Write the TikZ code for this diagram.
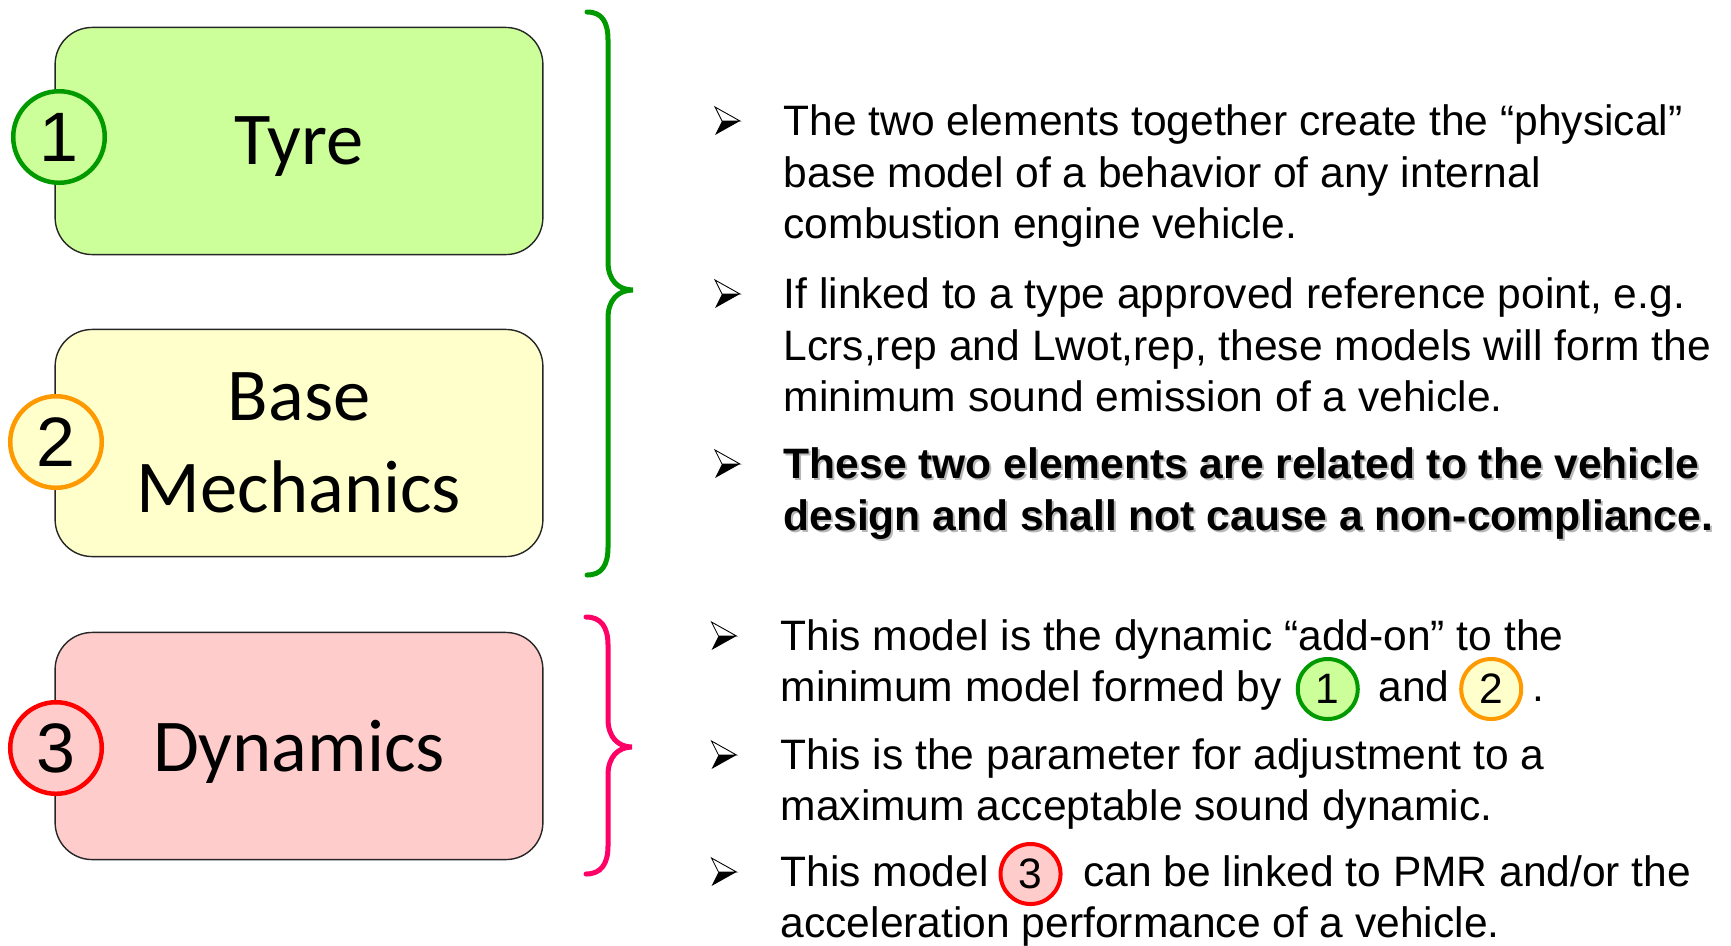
\documentclass[tikz,border=0pt]{standalone}
\usepackage{fontspec}
\setmainfont{Liberation Sans}
\newfontfamily\boxfont{Carlito}
\usetikzlibrary{positioning}
\definecolor{tyrefill}{HTML}{CCFF99}
\definecolor{tyreline}{HTML}{009900}
\definecolor{mechfill}{HTML}{FFFFCC}
\definecolor{mechline}{HTML}{FF9900}
\definecolor{dynfill}{HTML}{FFCCCC}
\definecolor{dynline}{HTML}{FF0000}
\definecolor{bracepink}{HTML}{FF0066}
\newcommand\txtfont{\fontsize{12.1}{14.5}\selectfont}
\def\pointer(#1){\begin{scope}[shift={(#1)}]
	\draw[line width=0.25pt, fill=white] (-12.5,-14) -- (12.5,0) -- (-5.5,0) -- cycle;
	\fill (-5.5,0) -- (12.5,0) -- (-12.5,14) -- cycle;
\end{scope}}
\tikzset{
	box/.style={draw=black!85, line width=0.4pt, rounded corners=0.37cm, minimum width=4.875cm, minimum height=2.27cm, inner sep=0, align=center, text depth=0pt, font=\boxfont\fontsize{21.2}{26.2}\selectfont},
	num/.style={circle, line width=0.045cm, minimum size=0.915cm, inner sep=0, font=\fontsize{19.9}{20}\selectfont},
	inum/.style={circle, line width=0.04cm, minimum size=0.6cm, inner sep=0, font=\txtfont},
	txt/.style={anchor=west, inner sep=0, font=\txtfont, text height=0.34cm, text depth=0.085cm},
	bold/.style={txt, font=\txtfont\bfseries},
	shade/.style={bold, text=black!28},
	brace/.style={line width=0.05cm, line cap=round}
}
\begin{document}
\begin{tikzpicture}[x=0.01cm, y=-0.01cm]
	\useasboundingbox (0,0) rectangle (1731,945);
	
	%%%%% boxes %%%%%
	\node[box, fill=tyrefill] (tyre) at (299,141) {Tyre};
	\node[box, fill=mechfill] (mech) at (299,443) {Base\\Mechanics};
	\node[box, fill=dynfill] (dyn) at (299,746) {Dynamics};
	
	\node[num, draw=tyreline, fill=tyrefill] (c1) at (59,137) {1};
	\node[num, draw=mechline, fill=mechfill] (c2) at (56,442) {2};
	\node[num, draw=dynline, fill=dynfill] (c3) at (56,748) {3};
	
	%%%%% braces %%%%%
	\draw[brace, tyreline] (587,12) .. controls (602,12) and (608,22) .. (608,40) -- (608,262)
		.. controls (608,280) and (618,290) .. (633,290) .. controls (618,290) and (608,300) .. (608,318)
		-- (608,547) .. controls (608,565) and (602,575) .. (587,575);
	\draw[brace, bracepink] (586,617) .. controls (601,617) and (608,627) .. (608,645) -- (608,719)
		.. controls (608,737) and (618,747) .. (632,747) .. controls (618,747) and (608,757) .. (608,775)
		-- (608,846) .. controls (608,864) and (601,874) .. (586,874);
	
	%%%%% first group %%%%%
	\pointer(727.5,121)
	\node[txt] (a1) at (783,123) {The two elements together create the “physical”};
	\node[txt] (a2) at (783,174.5) {base model of a behavior of any internal};
	\node[txt] (a3) at (783,226) {combustion engine vehicle.};
	
	\pointer(727.5,294)
	\node[txt] (b1) at (783,296) {If linked to a type approved reference point, e.g.};
	\node[txt] (b2) at (783,347.5) {Lcrs,rep and Lwot,rep, these models will form the};
	\node[txt] (b3) at (783,399) {minimum sound emission of a vehicle.};
	
	\pointer(727.5,464)
	\node[shade] (s1) at (785,468) {These two elements are related to the vehicle};
	\node[shade] (s2) at (785,519.5) {design and shall not cause a non-compliance.};
	\node[bold] (d1) at (783,466) {These two elements are related to the vehicle};
	\node[bold] (d2) at (783,517.5) {design and shall not cause a non-compliance.};
	
	%%%%% second group %%%%%
	\pointer(724,636)
	\node[txt] (e1) at (780,638) {This model is the dynamic “add-on” to the};
	\node[txt] (e2) at (780,689) {minimum model formed by};
	\node[inum, draw=tyreline, fill=tyrefill, right=0.13cm of e2] (n1) {1};
	\node[txt, right=0.18cm of n1] (e3) {and};
	\node[inum, draw=mechline, fill=mechfill, right=0.09cm of e3] (n2) {2};
	\node[txt, right=0.09cm of n2] (e4) {.};
	
	\pointer(724,755)
	\node[txt] (f1) at (780,757) {This is the parameter for adjustment to a};
	\node[txt] (f2) at (780,808) {maximum acceptable sound dynamic.};
	
	\pointer(724,872)
	\node[txt] (g1) at (780,874) {This model};
	\node[inum, draw=dynline, fill=dynfill, right=0.09cm of g1] (n3) {3};
	\node[txt, right=0.2cm of n3] (g2) {can be linked to PMR and/or the};
	\node[txt] (g3) at (780,925) {acceleration performance of a vehicle.};
\end{tikzpicture}
\end{document}
